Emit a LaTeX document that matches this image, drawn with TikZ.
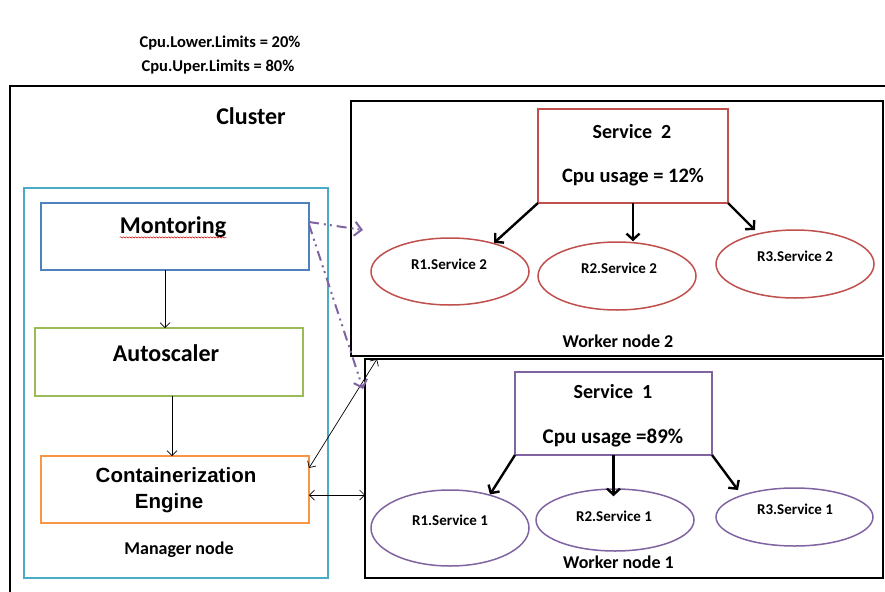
\documentclass[tikz,border=0pt]{standalone}
\usepackage{fontspec}
\setmainfont{Carlito}
\newfontfamily\arialfont{Liberation Sans}
\usetikzlibrary{shapes.geometric,arrows.meta,decorations.pathmorphing}

\definecolor{mgrteal}{HTML}{4BACC6}
\definecolor{monblue}{HTML}{4F81BD}
\definecolor{autogreen}{HTML}{9BBB59}
\definecolor{engorange}{HTML}{F79646}
\definecolor{svcred}{HTML}{C0504D}
\definecolor{svcpurple}{HTML}{8064A2}

\tikzset{
  panel/.style={draw, rectangle, line width=2pt, inner sep=0pt, outer sep=0pt},
  worker/.style={draw=black, rectangle, line width=2.6pt, inner sep=0pt, outer sep=0pt},
  replica/.style={draw, ellipse, line width=1.5pt, inner sep=0pt},
  lbl/.style={inner sep=0pt, font=\bfseries\fontsize{#1}{#1}\selectfont},
  lbl/.default=18,
  flow/.style={line width=0.7pt, -{Straight Barb[length=5pt,width=10pt]}},
  bothflow/.style={line width=0.7pt, {Straight Barb[length=5pt,width=10pt]}-{Straight Barb[length=5pt,width=10pt]}},
  spawn/.style={line width=2.4pt, -{Straight Barb[length=6pt,width=13pt]}},
  probe/.style={draw=svcpurple, line width=2pt,
    dash pattern=on 10pt off 5pt on 2pt off 4pt on 2pt off 5pt,
    -{Straight Barb[length=7pt,width=14pt]}}
}

\begin{document}
\begin{tikzpicture}[x=1pt,y=-1pt]
\useasboundingbox (0,0) rectangle (885,591);
\fill[white] (0,0) rectangle (885,591);
\clip (0,0) rectangle (885,591);

% thresholds
\node[lbl=16.5] (lower) at (220,43) {Cpu.Lower.Limits = 20\%};
\node[lbl=16.5] (upper) at (218,67) {Cpu.Uper.Limits = 80\%};

% cluster frame
\draw[line width=2.2pt] (10,86) rectangle (900,600);
\node[lbl=24] (cluster) at (251,116) {Cluster};

% manager node
\node[panel, draw=mgrteal, minimum width=304, minimum height=390] (mgr) at (176,383) {};
\node[panel, draw=monblue, minimum width=268, minimum height=67] (mon) at (175,236.5) {};
\node[panel, draw=autogreen, minimum width=268, minimum height=68] (auto) at (169,362) {};
\node[panel, draw=engorange, minimum width=268, minimum height=67] (eng) at (175,489.5) {};

\node[lbl=24] (montxt) at (173,227) {Montoring};
\draw[red!80!black, line width=0.4pt, decorate,
  decoration={snake, amplitude=0.7pt, segment length=3pt}]
  ([yshift=-4pt]montxt.base west) -- ([yshift=-4pt]montxt.base east);
\node[lbl=24] (autotxt) at (166,353) {Autoscaler};
\node[lbl=20.5, font=\arialfont\bfseries\fontsize{20.5}{20.5}\selectfont] (engtxt1) at (176,475) {Containerization};
\node[lbl=20.5, font=\arialfont\bfseries\fontsize{20.5}{20.5}\selectfont] (engtxt2) at (169,503) {Engine};
\node[lbl=18] (mgrtxt) at (179,550) {Manager node};

\draw[flow] (mon.south -| 165,0) -- (auto.north -| 165,0);
\draw[flow] (auto.south -| 172,0) -- (eng.north -| 172,0);

% worker node 2
\node[worker, minimum width=532, minimum height=255] (wn2) at (617,228.5) {};
\node[panel, draw=svcred, minimum width=190, minimum height=94] (s2) at (633,156) {};
\node[lbl=20] (s2a) at (632,132) {Service~~2};
\node[lbl=20.5] (s2b) at (633,177) {Cpu usage = 12\%};
\node[replica, draw=svcred, minimum width=158, minimum height=67] (r21) at (450,271.5) {};
\node[replica, draw=svcred, minimum width=158, minimum height=68] (r22) at (617,276) {};
\node[replica, draw=svcred, minimum width=158, minimum height=68] (r23) at (795,264) {};
\node[lbl=15] (r21t) at (449,264) {R1.Service 2};
\node[lbl=15] (r22t) at (619,268) {R2.Service 2};
\node[lbl=15] (r23t) at (795,256) {R3.Service 2};
\node[lbl=18] (wn2t) at (618,341) {Worker node 2};

\draw[spawn] (s2.south west) -- (r21.33);
\draw[spawn] (s2.south) -- (s2.south |- r22.north);
\coordinate (t23) at (755,230);
\draw[spawn] (s2.south east) -- (t23);

% worker node 1
\node[worker, minimum width=518, minimum height=219] (wn1) at (624,468.5) {};
\node[panel, draw=svcpurple, minimum width=197, minimum height=83] (s1) at (613.5,413.5) {};
\node[lbl=20] (s1a) at (613,392) {Service~~1};
\node[lbl=21] (s1b) at (613,438) {Cpu usage =89\%};
\node[replica, draw=svcpurple, minimum width=158, minimum height=76] (r11) at (450,528) {};
\node[replica, draw=svcpurple, minimum width=158, minimum height=62] (r12) at (615,520) {};
\node[replica, draw=svcpurple, minimum width=157, minimum height=58] (r13) at (794.5,517) {};
\node[lbl=15] (r11t) at (450,520) {R1.Service 1};
\node[lbl=15] (r12t) at (614,516) {R2.Service 1};
\node[lbl=15] (r13t) at (795,509) {R3.Service 1};
\node[lbl=18] (wn1t) at (618.5,562) {Worker node 1};

\draw[spawn] (s1.south west) -- (r11.40);
\draw[spawn] (s1.south) -- ([yshift=-8pt]s1.south |- r12.north);
\coordinate (t13) at (738,490);
\draw[spawn] (s1.south east) -- (t13);

% links between manager and workers
\draw[bothflow] ([yshift=-5.5pt]eng.east) -- ([yshift=-5.5pt]eng.east -| wn1.west);
\draw[bothflow] ([yshift=-12pt]eng.north east) -- ([xshift=12pt]wn1.north west);

% monitoring probes
\coordinate (p2) at (363,230);
\coordinate (p1) at (363,389);
\draw[probe] ([yshift=14.5pt]mon.east) -- (p2);
\draw[probe] ([yshift=12pt]mon.east) -- (p1);
\end{tikzpicture}
\end{document}
